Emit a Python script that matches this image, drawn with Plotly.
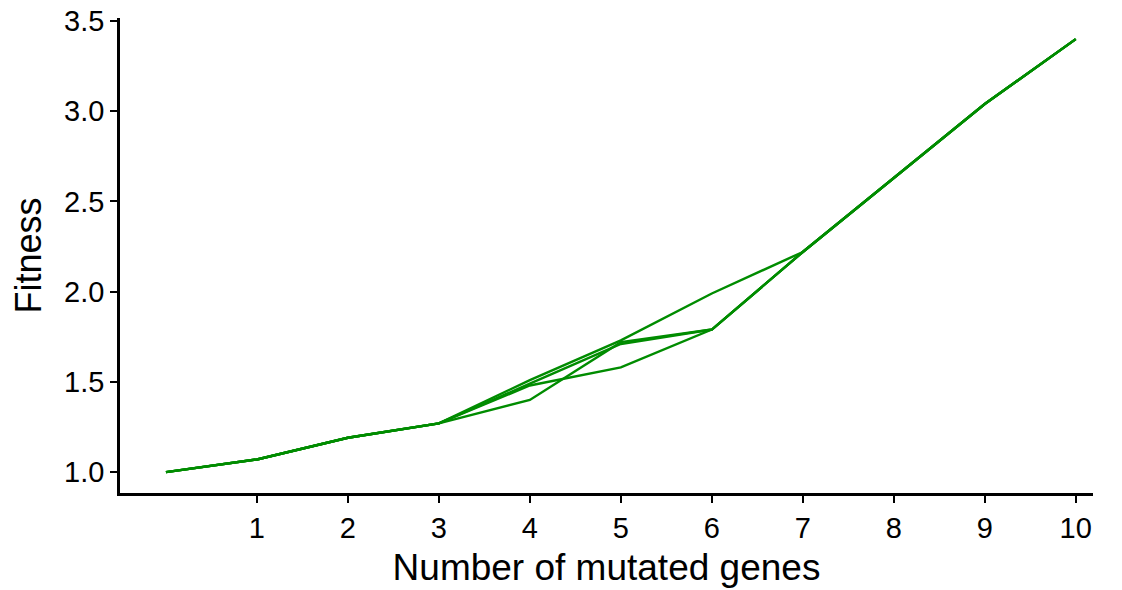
import plotly.graph_objects as go

# Number of mutated genes along each trajectory
genes = [0, 1, 2, 3, 4, 5, 6, 7, 8, 9, 10]

# Fitness along each trajectory (paths share start and end)
path_1 = [1.00, 1.07, 1.19, 1.27, 1.51, 1.73, 1.99, 2.22, 2.63, 3.04, 3.40]
path_2 = [1.00, 1.07, 1.19, 1.27, 1.40, 1.72, 1.79, 2.22, 2.63, 3.04, 3.40]
path_3 = [1.00, 1.07, 1.19, 1.27, 1.48, 1.58, 1.79, 2.22, 2.63, 3.04, 3.40]
path_4 = [1.00, 1.07, 1.19, 1.27, 1.49, 1.71, 1.79, 2.22, 2.63, 3.04, 3.40]

x_ticks = [1, 2, 3, 4, 5, 6, 7, 8, 9, 10]
y_ticks = [1.0, 1.5, 2.0, 2.5, 3.0, 3.5]

fig = go.Figure()
for path in [path_1, path_2, path_3, path_4]:
    fig.add_trace(go.Scatter(
        x=genes, y=path, mode='lines',
        line=dict(color='rgb(0,140,0)', width=2.4),
        showlegend=False, hoverinfo='skip'
    ))

axis_style = dict(
    showline=True, linecolor='black', linewidth=2.5,
    ticks='outside', ticklen=7, tickwidth=2, tickcolor='black',
    showgrid=False, zeroline=False, automargin=False,
    ticklabeloverflow='allow',
    tickfont=dict(size=29, color='black'),
)

# page body has an 8px margin, so the figure is sized to fit inside it
fig.update_layout(
    width=1114, height=582,
    margin=dict(l=112, r=29, t=10, b=97),
    plot_bgcolor='white', paper_bgcolor='white',
    font=dict(family='Liberation Sans, Arial', color='black'),
    xaxis=dict(
        axis_style, range=[-0.505, 10.19], tickvals=x_ticks,
        title=dict(text='Number of mutated genes', font=dict(size=37), standoff=12),
    ),
    yaxis=dict(
        axis_style, range=[0.884, 3.517], tickvals=y_ticks, tickformat='.1f',
        title=dict(text='Fitness', font=dict(size=36), standoff=12),
    ),
)

fig.write_html("out.html")
